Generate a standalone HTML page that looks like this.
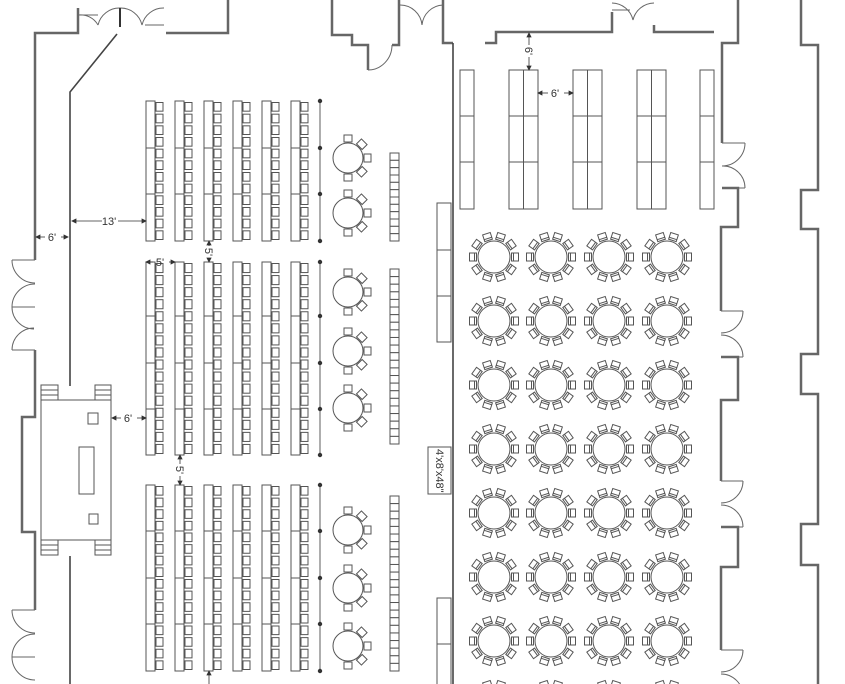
<!DOCTYPE html>
<html><head><meta charset="utf-8"><style>
html,body{margin:0;padding:0;background:#fff;width:845px;height:684px;overflow:hidden}
svg{display:block;overflow:hidden}
text{font-family:"Liberation Sans",sans-serif;font-size:11px;fill:#333}
</style></head><body>
<svg id="s" width="845" height="684" viewBox="0 0 845 684" xmlns="http://www.w3.org/2000/svg">
<defs><clipPath id="cp"><rect x="0" y="0" width="845" height="684"/></clipPath></defs>
<g clip-path="url(#cp)">
<g fill="none" stroke="#666" stroke-width="2.5" stroke-linejoin="miter">
<polyline points="78,8 78,33 35,33 35,260"/>
<polyline points="35,350 35,417 22,417 22,532 35,532 35,610"/>
<polyline points="166,33 228,33 228,0"/>
<polyline points="332,0 332,35 352,35 352,45 368,45 368,70"/>
<polyline points="392,45 399,45 399,0"/>
<polyline points="443,0 443,43 453,43"/>
<polyline points="485,43 496,43 496,32 612,32 612,12"/>
<polyline points="654,25 654,32 714,32"/>
<polyline points="738,0 738,43 722,43 722,143"/>
<polyline points="722,188 738,188 738,227 721,227 721,311"/>
<polyline points="721,357 738,357 738,400 721,400 721,481"/>
<polyline points="721,527 738,527 738,567 721,567 721,650"/>
<polyline points="801,0 801,45 818,45 818,190 801,190 801,229 818,229 818,354 801,354 801,394 818,394 818,524 801,524 801,565 818,565 818,684"/>
</g>
<g fill="none" stroke="#444" stroke-width="1.6">
<line x1="453" y1="43" x2="453" y2="684"/>
<polyline points="117,34 70,92 70,386"/>
<line x1="70" y1="556" x2="70" y2="684"/>
</g>
<g fill="none" stroke="#666" stroke-width="1">
<path d="M12,260 L35,260 M12,260 A23,23 0 0 0 35,283 M12,307 A23,23 0 0 1 35,284 M12,307 L35,307 M12,307 A22,22 0 0 0 34,329 M12,350 A22,22 0 0 1 34,328 M12,350 L35,350"/>
<path d="M12,610 L35,610 M12,610 A23,23 0 0 0 35,633 M12,657 A23,23 0 0 1 35,634 M12,657 L35,657 M12,657 A23,23 0 0 0 35,680"/>
<path d="M78,15 L98,15 M78,15 A20,20 0 0 1 98,25 M120,8 A22,22 0 0 0 98,25 M120,8 A22,22 0 0 1 142,25 M164,8 A22,22 0 0 0 142,25 M145,25 L164,25"/>
<line x1="120" y1="8" x2="120" y2="27" stroke="#333" stroke-width="2"/>
<path d="M368,70 A24,25 0 0 0 392,45"/>
<path d="M400,5 A22,22 0 0 1 422,25 M443,5 A22,22 0 0 0 422,25"/>
<path d="M612,10 L630,10 M612,3 A22,22 0 0 1 633,20 M654,3 A22,22 0 0 0 633,20"/>
<path d="M722,143 L745,143 M745,143 A23,23 0 0 1 722,166 M745,188 A22,22 0 0 0 723,166 M722,188 L745,188"/>
<path d="M721,311 L743,311 M743,311 A22,22 0 0 1 721,333 M743,357 A22,22 0 0 0 721,335 M721,357 L743,357"/>
<path d="M721,481 L743,481 M743,481 A22,22 0 0 1 721,503 M743,527 A22,22 0 0 0 721,505 M721,527 L743,527"/>
<path d="M721,650 L743,650 M743,650 A22,22 0 0 1 721,672 M743,696 A22,22 0 0 0 721,674"/>
</g>
<g id="furn" fill="#fff" stroke="#555" stroke-width="1"></g>
<g stroke="#333" stroke-width="0.8" fill="#333" id="dims"></g>
<g id="txt"></g>
</g>
</svg>
<script>
var NS="http://www.w3.org/2000/svg";
var F=document.getElementById('furn'),D=document.getElementById('dims'),T=document.getElementById('txt');
function el(p,t,a){var e=document.createElementNS(NS,t);for(var k in a)e.setAttribute(k,a[k]);p.appendChild(e);return e;}
function R(x,y,w,h){return el(F,'rect',{x:x,y:y,width:w,height:h});}
function L(x1,y1,x2,y2,p){return el(p||F,'line',{x1:x1,y1:y1,x2:x2,y2:y2});}
var cols=[146,175,204,233,262,291];
var blocks=[[101,241,[148,194],12],[262,455,[316,363,409],16],[485,671,[531,578,624],16]];
blocks.forEach(function(b){
 var y0=b[0],y1=b[1],n=b[3],p=(y1-y0)/n;
 cols.forEach(function(x){
  R(x,y0,9,y1-y0);
  b[2].forEach(function(d){L(x,d,x+9,d);});
  for(var i=0;i<n;i++){R(x+10,y0+i*p+1.5,7,p-3);L(x+10,y0+i*p+1.5,x+10,y0+i*p+p-1.5);}
 });
 L(320,y0,320,y1,D);
 [y0].concat(b[2]).concat([y1]).forEach(function(d){el(D,'circle',{cx:320,cy:d,r:1.8});});
});
[158,213,292,351,408,530,588,646].forEach(function(cy){
 var cx=348;
 [-90,-45,0,45,90].forEach(function(a){
  var g=el(F,'g',{transform:'translate('+cx+','+cy+') rotate('+a+') translate(18,0)'});
  el(g,'rect',{x:-2,y:-4,width:7,height:8});
 });
 el(F,'circle',{cx:cx,cy:cy,r:15});
});
[[153,241,12],[269,444,23],[496,671,23]].forEach(function(c){
 var p=(c[1]-c[0])/c[2];
 for(var i=0;i<c[2];i++)R(390,c[0]+i*p,9,p);
});
R(437,203,14,139);L(437,250,451,250);L(437,296,451,296);
R(437,598,14,100);L(437,644,451,644);
R(428,447,23,47);
var t=el(T,'text',{x:0,y:0,transform:'translate(436,449) rotate(90)','font-size':'10'});t.textContent="4'x8'x48\"";
[[460,1],[509,2],[573,2],[637,2],[700,1]].forEach(function(c){
 var w=c[1]==1?14:29;
 R(c[0],70,w,139);L(c[0],116,c[0]+w,116);L(c[0],162,c[0]+w,162);
 if(c[1]==2)L(c[0]+14.5,70,c[0]+14.5,209);
});
[494,551,609,667].forEach(function(cx){
 [257,321,385,449,513,577,641,705].forEach(function(cy){
  for(var k=0;k<10;k++){
   var g=el(F,'g',{transform:'translate('+cx+','+cy+') rotate('+(k*36)+') translate(20,0)'});
   el(g,'rect',{x:-2.5,y:-4,width:7,height:8});
   el(g,'line',{x1:-0.5,y1:-4,x2:-0.5,y2:4});
  }
  el(F,'circle',{cx:cx,cy:cy,r:16});
 });
});
R(41,385,17,15);L(41,390,58,390);L(41,395,58,395);
R(95,385,16,15);L(95,390,111,390);L(95,395,111,395);
R(41,540,17,15);L(41,545,58,545);L(41,550,58,550);
R(95,540,16,15);L(95,545,111,545);L(95,550,111,550);
R(41,400,70,140);
R(88,413,10,11);R(89,514,9,10);R(79,447,15,47);
function arrowH(x1,x2,y,label,lx){
 L(x1,y,lx-7,y,D);L(lx+9,y,x2,y,D);
 el(D,'path',{d:'M'+x1+','+y+' l4,-2 v4 z'});el(D,'path',{d:'M'+x2+','+y+' l-4,-2 v4 z'});
 var t=el(T,'text',{x:lx,y:y+4,'text-anchor':'middle'});t.textContent=label;
}
function arrowV(x,y1,y2,label,ly){
 L(x,y1,x,ly-6,D);L(x,ly+6,x,y2,D);
 el(D,'path',{d:'M'+x+','+y1+' l-2,4 h4 z'});el(D,'path',{d:'M'+x+','+y2+' l-2,-4 h4 z'});
 var t=el(T,'text',{x:0,y:0,transform:'translate('+(x-4)+','+ly+') rotate(90)','text-anchor':'middle'});t.textContent=label;
}
arrowH(72,146,221,"13'",109);
arrowH(36,68,237,"6'",52);
arrowH(112,146,418,"6'",128);
arrowH(146,175,262,"5'",160);
arrowH(538,573,93,"6'",555);
arrowV(209,241,262,"5'",252);
arrowV(180,455,485,"5'",470);
arrowV(529,33,70,"6'",51);
L(209,671,209,684,D);el(D,'path',{d:'M209,671 l-2,4 h4 z'});
</script>
</body></html>
